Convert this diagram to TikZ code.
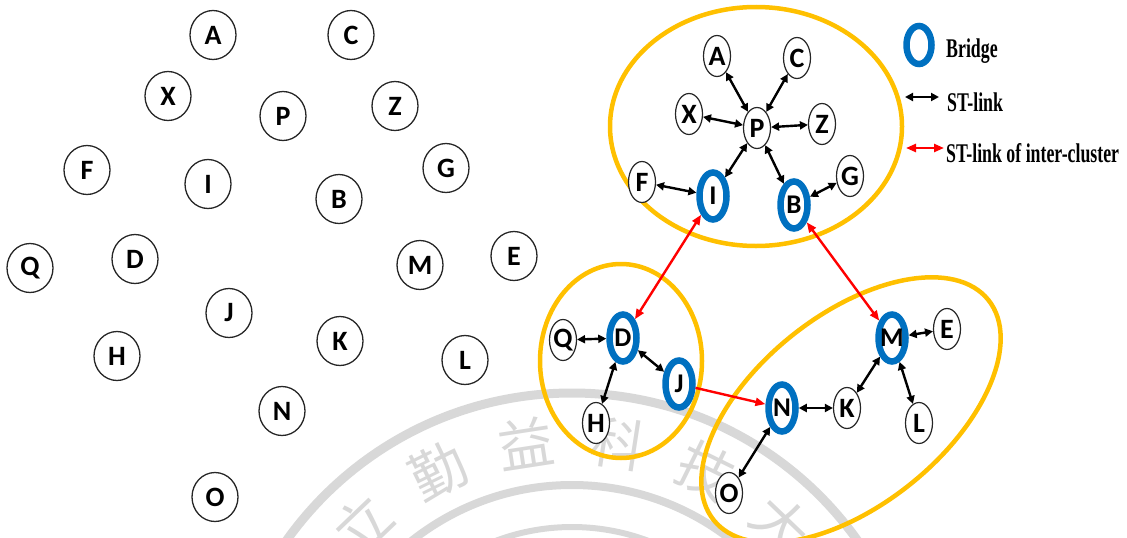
\documentclass[tikz,border=0pt]{standalone}
\usepackage{fontspec}
\setsansfont{Carlito}
\newfontfamily\legendfont[FakeStretch=0.66]{Liberation Serif}
\newfontfamily\sealfont{Noto Sans CJK TC}
\usetikzlibrary{shapes.geometric,arrows.meta}
\definecolor{clusteryellow}{HTML}{FFC000}
\definecolor{bridgeblue}{HTML}{0070C0}
\definecolor{linkred}{HTML}{FF0000}
\definecolor{sealgray}{HTML}{D8D8D8}
% letters are given no width so that they never widen their node
\newcommand{\ltr}[1]{\makebox[0pt]{#1}}
\begin{document}
\begin{tikzpicture}[x=1pt,y=-1pt,
  letter/.style={font=\sffamily\bfseries\fontsize{28}{28}\selectfont},
  plainnode/.style={ellipse, draw=black!85, line width=1.3pt, fill=white,
    inner sep=0pt, minimum width=46pt, minimum height=49pt, letter},
  smallnode/.style={ellipse, draw=black!85, line width=1.2pt, fill=white,
    inner sep=0pt, minimum width=27pt, minimum height=41pt, letter},
  bridgenode/.style={ellipse, draw=bridgeblue, line width=6.5pt, fill=white,
    inner sep=0pt, minimum width=27pt, minimum height=47pt,
    font=\sffamily\bfseries\fontsize{27}{27}\selectfont},
  cluster/.style={draw=clusteryellow, line width=4.5pt},
  stlink/.style={draw=black, line width=2.4pt,
    {Triangle[length=8pt,width=8pt]}-{Triangle[length=8pt,width=8pt]}},
  interlink/.style={draw=linkred, line width=2.4pt,
    {Triangle[length=10pt,width=8pt]}-{Triangle[length=10pt,width=8pt]}},
  interlinkone/.style={draw=linkred, line width=2.4pt,
    -{Triangle[length=10pt,width=8pt]}},
  legendtext/.style={font=\legendfont\bfseries\fontsize{27}{27}\selectfont,
    anchor=base west, inner sep=0pt},
  sealchar/.style={font=\sealfont\fontsize{56}{56}\selectfont, text=sealgray,
    inner sep=0pt}
]
\useasboundingbox (0,0) rectangle (1127,538);

% ---- faint university seal in the background ----
\begin{scope}
  \clip (0,0) rectangle (1127,538);
  \coordinate (sealc) at (572,743);
  \draw[sealgray, line width=9pt] (sealc) circle[radius=350];
  \draw[sealgray, line width=8pt] (sealc) circle[radius=258];
  \draw[sealgray, line width=6pt] (sealc) circle[radius=216];
  \foreach \ch/\ang [count=\i] in {立/133.75, 勤/116.25, 益/98.75,
                                   科/81.25, 技/63.75, 大/46.25}
    \path (sealc) ++(-\ang:303) node[sealchar, rotate=\ang-90] (seal\i) {\ch};
\end{scope}

% ---- left: unclustered nodes ----
\node[plainnode] (lA) at (213,35)  {\ltr{A}};
\node[plainnode] (lC) at (351,35)  {\ltr{C}};
\node[plainnode] (lX) at (168,96)  {\ltr{X}};
\node[plainnode] (lP) at (283,116) {\ltr{P}};
\node[plainnode] (lZ) at (395,106) {\ltr{Z}};
\node[plainnode] (lF) at (87,170)  {\ltr{F}};
\node[plainnode] (lI) at (208,184) {\ltr{I}};
\node[plainnode] (lB) at (339,199) {\ltr{B}};
\node[plainnode] (lG) at (446,168) {\ltr{G}};
\node[plainnode] (lQ) at (30,268)  {\ltr{Q}};
\node[plainnode] (lD) at (135,259) {\ltr{D}};
\node[plainnode] (lM) at (420,265) {\ltr{M}};
\node[plainnode] (lE) at (514,256) {\ltr{E}};
\node[plainnode] (lJ) at (229,313) {\ltr{J}};
\node[plainnode] (lH) at (117,356) {\ltr{H}};
\node[plainnode] (lK) at (340,341) {\ltr{K}};
\node[plainnode] (lL) at (465,360) {\ltr{L}};
\node[plainnode] (lN) at (282,411) {\ltr{N}};
\node[plainnode] (lO) at (215,497) {\ltr{O}};

% ---- right: clusters ----
\draw[cluster] (756,126.5) ellipse[x radius=146, y radius=119.5];
\draw[cluster] (621,361) ellipse[x radius=81, y radius=97];
\draw[cluster, rotate around={38.7:(851,410)}] (851,410) ellipse[x radius=176, y radius=95];

\node[smallnode]  (rA) at (717,56)  {\ltr{A}};
\node[smallnode]  (rC) at (797,58)  {\ltr{C}};
\node[smallnode]  (rX) at (689,114) {\ltr{X}};
\node[smallnode]  (rP) at (757,128) {\ltr{P}};
\node[smallnode]  (rZ) at (822,124) {\ltr{Z}};
\node[smallnode]  (rF) at (642,182) {\ltr{F}};
\node[bridgenode] (rI) at (713,196) {\ltr{I}};
\node[bridgenode] (rB) at (794,205) {\ltr{B}};
\node[smallnode]  (rG) at (850,176) {\ltr{G}};

\node[smallnode]  (rQ) at (563,340) {\ltr{Q}};
\node[bridgenode] (rD) at (623,338) {\ltr{D}};
\node[bridgenode] (rJ) at (679,384) {\ltr{J}};
\node[smallnode]  (rH) at (596,423) {\ltr{H}};

\node[bridgenode] (rN) at (782,408) {\ltr{N}};
\node[smallnode]  (rO) at (729,493) {\ltr{O}};
\node[smallnode]  (rK) at (847,408) {\ltr{K}};
\node[bridgenode] (rM) at (892,338) {\ltr{M}};
\node[smallnode]  (rE) at (947,329) {\ltr{E}};
\node[smallnode]  (rL) at (919,423) {\ltr{L}};

% intra-cluster links
\foreach \t in {rA,rC,rX,rZ,rI,rB}
  \draw[stlink] (rP) -- (\t);
\draw[stlink] (rF) -- (rI);
\draw[stlink] (rG) -- (rB);
\draw[stlink] (rD) -- (rQ);
\draw[stlink] (rD) -- (rH);
\draw[stlink] (rD) -- (rJ);
\draw[stlink] (rN) -- (rK);
\draw[stlink] (rN) -- (rO);
\draw[stlink] (rM) -- (rK);
\draw[stlink] (rM) -- (rE);
\draw[stlink] (rM) -- (rL);

% inter-cluster links
\draw[interlink] (rI) -- (rD);
\draw[interlink] (rB) -- (rM);
\draw[interlinkone] (rJ) -- (rN);

% ---- legend ----
\node[bridgenode, line width=6.5pt, minimum width=25pt, minimum height=38pt] (legBridge) at (919,45) {};
\node[legendtext] (legBridgeText) at (946,57) {Bridge};
\coordinate (legLinkA) at (905,97);
\coordinate (legLinkB) at (939,97);
\draw[stlink] (legLinkA) -- (legLinkB);
\node[legendtext] (legLinkText) at (947,111) {ST-link};
\coordinate (legInterA) at (906,148);
\coordinate (legInterB) at (944,148);
\draw[interlink] (legInterA) -- (legInterB);
\node[legendtext] (legInterText) at (946,162) {ST-link of inter-cluster};
\end{tikzpicture}
\end{document}
